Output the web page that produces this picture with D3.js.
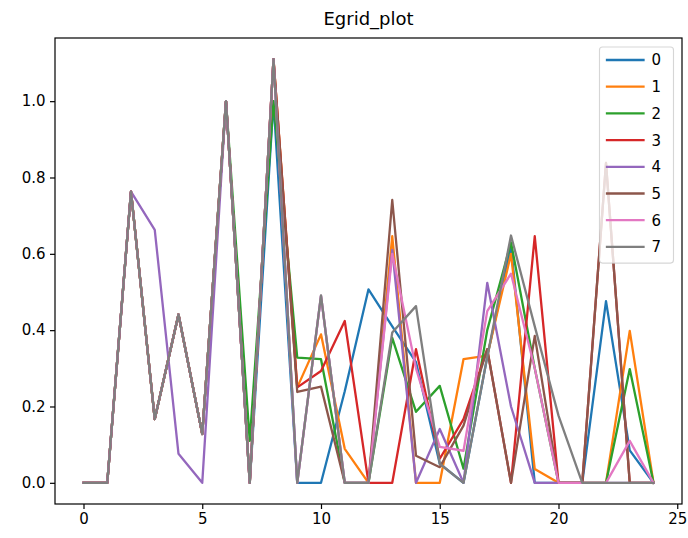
<!DOCTYPE html>
<html>
<head>
<meta charset="utf-8">
<script src="https://cdn.jsdelivr.net/npm/d3@7"></script>
<style>
  html, body { margin: 0; padding: 0; background: #fff; }
  svg { display: block; font-family: "DejaVu Sans", sans-serif; }
</style>
</head>
<body>
<svg id="chart" width="688" height="538"></svg>
<script>
// ---- data ----
const title = "Egrid_plot";
const xValues = d3.range(0, 25);
const seriesNames = ["0", "1", "2", "3", "4", "5", "6", "7"];
const colors = ["#1f77b4", "#ff7f0e", "#2ca02c", "#d62728", "#9467bd", "#8c564b", "#e377c2", "#7f7f7f"];

const s0 = [0, 0, 0.763, 0.167, 0.441, 0.128, 1.0, 0, 1.0, 0, 0, 0.24, 0.507, 0.41, 0.316, 0.05, 0, 0.33, 0.62, 0, 0, 0, 0.476, 0.085, 0];
const s1 = [0, 0, 0.763, 0.167, 0.441, 0.128, 1.0, 0, 1.11, 0.25, 0.389, 0.089, 0, 0.646, 0, 0, 0.324, 0.333, 0.6, 0.036, 0, 0, 0, 0.398, 0];
const s2 = [0, 0, 0.763, 0.167, 0.441, 0.128, 1.0, 0.11, 1.0, 0.328, 0.324, 0, 0, 0.38, 0.186, 0.254, 0.037, 0.4, 0.63, 0.3, 0, 0, 0, 0.298, 0];
const s3 = [0, 0, 0.763, 0.167, 0.441, 0.128, 1.0, 0, 1.11, 0.25, 0.293, 0.424, 0, 0, 0.35, 0.063, 0.167, 0.35, 0, 0.646, 0, 0, 0.838, 0, 0];
const s4 = [0, 0, 0.763, 0.663, 0.076, 0, 1.0, 0, 1.11, 0, 0.49, 0, 0, 0.61, 0, 0.141, 0, 0.524, 0.2, 0, 0, 0, 0, 0, 0];
const s5 = [0, 0, 0.763, 0.167, 0.441, 0.128, 1.0, 0, 1.11, 0.238, 0.252, 0, 0, 0.741, 0.071, 0.041, 0.15, 0.35, 0, 0.385, 0, 0, 0.838, 0, 0];
const s6 = [0, 0, 0.763, 0.167, 0.441, 0.128, 1.0, 0, 1.11, 0, 0.49, 0, 0, 0.6, 0.3, 0.094, 0.084, 0.45, 0.548, 0.3, 0, 0, 0, 0.11, 0];
const s7 = [0, 0, 0.763, 0.167, 0.441, 0.128, 1.0, 0, 1.11, 0, 0.491, 0, 0, 0.394, 0.463, 0.05, 0, 0.33, 0.648, 0.41, 0.176, 0, 0, 0, 0];
const seriesValues = [s0, s1, s2, s3, s4, s5, s6, s7];

const xTicks = [0, 5, 10, 15, 20, 25];
const yTicks = [0.0, 0.2, 0.4, 0.6, 0.8, 1.0];

// ---- layout ----
const W = 688, H = 538;
const margin = { left: 55, right: 6, top: 38, bottom: 34 };
const plotL = margin.left, plotR = W - margin.right, plotT = margin.top, plotB = H - margin.bottom;
const tickFont = "15px", titleFont = "18px", lineW = 2.3;

const svg = d3.select("#chart");

// scales with matplotlib-like 5% margins
const xMin = d3.min(xValues), xMax = d3.max(xValues);
const xPad = (xMax - xMin) * 0.05;
const x = d3.scaleLinear().domain([xMin - xPad, xMax + xPad]).range([plotL, plotR]);

const allY = seriesValues.flat();
const yMin = d3.min(allY), yMax = d3.max(allY);
const yPad = (yMax - yMin) * 0.05;
const y = d3.scaleLinear().domain([yMin - yPad, yMax + yPad]).range([plotB, plotT]);

// clip
svg.append("defs").append("clipPath").attr("id", "clip")
  .append("rect").attr("x", plotL).attr("y", plotT)
  .attr("width", plotR - plotL).attr("height", plotB - plotT);

// lines
const line = d3.line().x((d, i) => x(xValues[i])).y(d => y(d));
const gLines = svg.append("g").attr("clip-path", "url(#clip)");
seriesValues.forEach((vals, k) => {
  gLines.append("path")
    .datum(vals)
    .attr("d", line)
    .attr("fill", "none")
    .attr("stroke", colors[k])
    .attr("stroke-width", lineW)
    .attr("stroke-linejoin", "round")
    .attr("stroke-linecap", "square");
});

// axes
const tickSize = 5, tickPad = 4.5;
const xAxis = d3.axisBottom(x).tickValues(xTicks).tickFormat(d3.format("d"))
  .tickSizeInner(tickSize).tickSizeOuter(0).tickPadding(tickPad);
const yAxis = d3.axisLeft(y).tickValues(yTicks).tickFormat(d3.format(".1f"))
  .tickSizeInner(tickSize).tickSizeOuter(0).tickPadding(tickPad);

const gx = svg.append("g").attr("transform", `translate(0,${plotB})`).call(xAxis);
const gy = svg.append("g").attr("transform", `translate(${plotL},0)`).call(yAxis);
[gx, gy].forEach(g => {
  g.select(".domain").remove();
  g.selectAll(".tick line").attr("stroke", "#000").attr("stroke-width", 1.2);
  g.selectAll(".tick text").attr("fill", "#000").style("font-size", tickFont)
    .style("font-family", "DejaVu Sans, sans-serif");
});

// spines
svg.append("rect")
  .attr("x", plotL).attr("y", plotT)
  .attr("width", plotR - plotL).attr("height", plotB - plotT)
  .attr("fill", "none").attr("stroke", "#000").attr("stroke-width", 1.2);

// title
svg.append("text")
  .attr("x", (plotL + plotR) / 2).attr("y", plotT - 13)
  .attr("text-anchor", "middle")
  .style("font-size", titleFont)
  .attr("fill", "#000")
  .text(title);

// legend
const legX = 599.5, legY = 47, legW = 74, rowH = 26.7;
const legH = seriesNames.length * rowH + 2.5;
const gLeg = svg.append("g");
gLeg.append("rect")
  .attr("x", legX).attr("y", legY).attr("width", legW).attr("height", legH)
  .attr("rx", 3).attr("ry", 3)
  .attr("fill", "#fff").attr("fill-opacity", 0.8)
  .attr("stroke", "#cccccc").attr("stroke-opacity", 0.8).attr("stroke-width", 1.1);
seriesNames.forEach((name, k) => {
  const cy = legY + 13 + k * rowH;
  gLeg.append("line")
    .attr("x1", legX + 7.5).attr("x2", legX + 44)
    .attr("y1", cy).attr("y2", cy)
    .attr("stroke", colors[k]).attr("stroke-width", lineW)
    .attr("stroke-linecap", "square");
  gLeg.append("text")
    .attr("x", legX + 52).attr("y", cy)
    .attr("dy", "0.36em")
    .style("font-size", tickFont)
    .attr("fill", "#000")
    .text(name);
});
</script>
</body>
</html>
